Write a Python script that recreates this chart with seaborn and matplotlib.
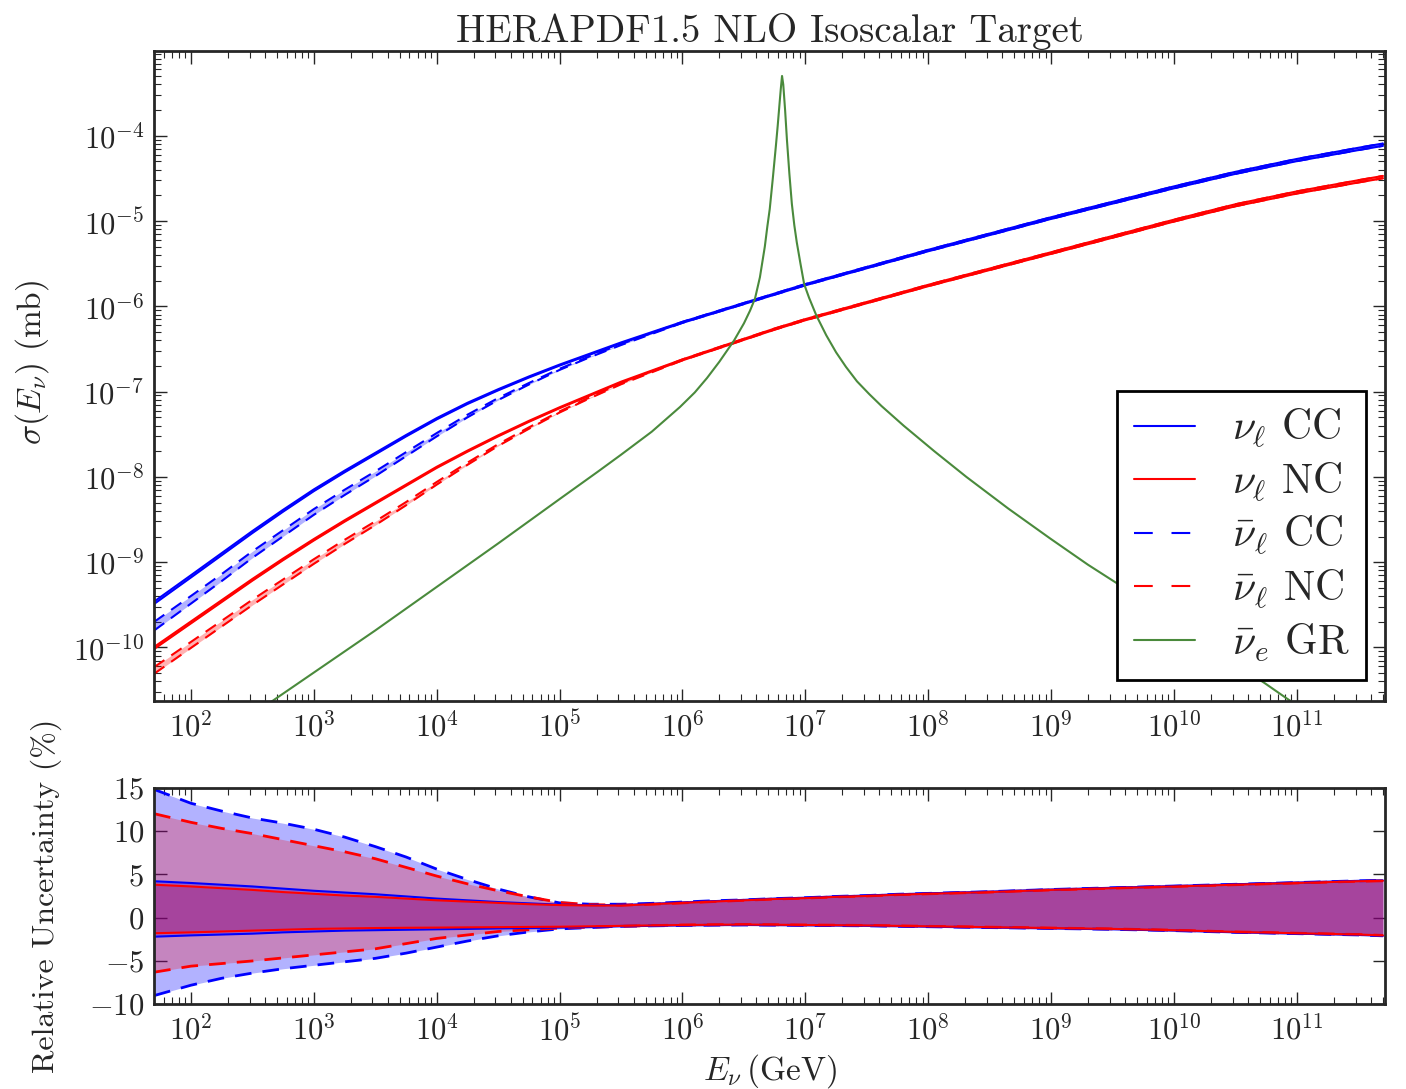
import numpy as np
import pandas as pd
import matplotlib
matplotlib.use("Agg")
import matplotlib.pyplot as plt
import seaborn as sns
from matplotlib.lines import Line2D
from matplotlib.ticker import LogLocator, FuncFormatter, NullFormatter, FixedLocator

# ---------------- data ----------------
log10_E = [1.7, 2.0, 2.25, 2.5, 2.75, 3.0, 3.25, 3.5, 3.75, 4.0,
           4.25, 4.5, 4.75, 5.0, 5.25, 5.5, 5.75, 6.0,
           6.25, 6.5, 6.75, 7.0, 7.25, 7.5, 7.75, 8.0,
           8.5, 9.0, 9.5, 10.0, 10.5, 11.0, 11.5, 11.7]

# log10 of cross section in mb
log10_sigma_nu_cc = [-9.48, -9.17, -8.91, -8.65, -8.40, -8.16, -7.94, -7.73, -7.52, -7.32,
                     -7.14, -6.98, -6.83, -6.69, -6.56, -6.43, -6.31, -6.19,
                     -6.08, -5.97, -5.86, -5.75, -5.65, -5.55, -5.45, -5.35,
                     -5.16, -4.97, -4.79, -4.61, -4.44, -4.29, -4.16, -4.11]
log10_sigma_nu_nc = [-10.01, -9.71, -9.46, -9.21, -8.97, -8.74, -8.52, -8.31, -8.10, -7.89,
                     -7.70, -7.52, -7.35, -7.19, -7.04, -6.89, -6.76, -6.63,
                     -6.51, -6.39, -6.27, -6.16, -6.06, -5.96, -5.86, -5.76,
                     -5.57, -5.38, -5.19, -5.00, -4.82, -4.67, -4.54, -4.49]
log10_sigma_nubar_cc = [-9.76, -9.45, -9.19, -8.92, -8.67, -8.42, -8.19, -7.97, -7.74, -7.51,
                        -7.29, -7.09, -6.91, -6.74, -6.59, -6.45, -6.32, -6.19,
                        -6.08, -5.97, -5.86, -5.75, -5.65, -5.55, -5.45, -5.35,
                        -5.16, -4.97, -4.79, -4.61, -4.44, -4.29, -4.16, -4.11]
log10_sigma_nubar_nc = [-10.28, -9.98, -9.73, -9.48, -9.24, -9.00, -8.77, -8.55, -8.32, -8.08,
                        -7.85, -7.63, -7.43, -7.24, -7.07, -6.91, -6.77, -6.63,
                        -6.51, -6.39, -6.27, -6.16, -6.06, -5.96, -5.86, -5.76,
                        -5.57, -5.38, -5.19, -5.00, -4.82, -4.67, -4.54, -4.49]

# Glashow resonance (anti-nu_e on electrons)
log10_E_gr = [1.7, 2.69, 3.5, 4.0, 4.5, 5.0, 5.31, 5.5, 5.75, 5.98, 6.1, 6.2, 6.3, 6.42,
              6.5, 6.55, 6.59, 6.63, 6.67, 6.69, 6.71, 6.735, 6.76, 6.775, 6.79, 6.80, 6.81,
              6.82, 6.835, 6.85, 6.87, 6.89, 6.91, 6.93, 6.96, 6.99, 7.03, 7.09, 7.17,
              7.25, 7.33, 7.42, 7.52, 7.62, 7.8, 8.05, 8.31, 8.65, 8.99, 9.3, 9.56,
              10.0, 10.4, 10.74, 10.92, 11.7]
log10_sigma_gr = [-11.59, -10.60, -9.80, -9.29, -8.78, -8.26, -7.94, -7.74, -7.47, -7.18,
                  -7.01, -6.84, -6.65, -6.40, -6.20, -6.05, -5.91, -5.66, -5.30, -5.07,
                  -4.86, -4.50, -4.12, -3.88, -3.62, -3.45, -3.30,
                  -3.40, -3.70, -4.05, -4.45, -4.80, -5.05, -5.25, -5.50, -5.74, -5.90,
                  -6.11, -6.34, -6.54, -6.71, -6.88, -7.03, -7.17, -7.40, -7.70, -8.00,
                  -8.37, -8.72, -9.03, -9.27, -9.72, -10.10, -10.42, -10.60, -11.35]

# relative uncertainties (%)
unc_nu_cc_up = [4.2, 4.0, 3.8, 3.6, 3.35, 3.1, 2.9, 2.7, 2.45, 2.2,
                2.0, 1.8, 1.65, 1.5, 1.45, 1.45, 1.6, 1.75,
                1.9, 2.05, 2.2, 2.3, 2.45, 2.55, 2.7, 2.8,
                3.0, 3.25, 3.45, 3.65, 3.85, 4.05, 4.25, 4.3]
unc_nu_cc_lo = [-2.2, -2.05, -1.95, -1.85, -1.7, -1.6, -1.5, -1.45, -1.4, -1.35,
                -1.3, -1.25, -1.2, -1.15, -1.1, -1.0, -0.95, -0.9,
                -0.87, -0.85, -0.87, -0.9, -0.92, -0.95, -1.0, -1.05,
                -1.15, -1.25, -1.35, -1.5, -1.7, -1.85, -2.0, -2.1]
unc_nu_nc_up = [3.8, 3.6, 3.4, 3.2, 2.95, 2.75, 2.55, 2.4, 2.2, 2.0,
                1.85, 1.7, 1.55, 1.45, 1.4, 1.4, 1.55, 1.7,
                1.85, 2.0, 2.15, 2.25, 2.4, 2.5, 2.65, 2.75,
                2.95, 3.2, 3.4, 3.6, 3.8, 4.0, 4.2, 4.25]
unc_nu_nc_lo = [-1.8, -1.7, -1.6, -1.5, -1.4, -1.3, -1.25, -1.2, -1.17, -1.15,
                -1.12, -1.1, -1.07, -1.05, -1.0, -0.95, -0.9, -0.85,
                -0.82, -0.8, -0.82, -0.85, -0.87, -0.9, -0.95, -1.0,
                -1.1, -1.2, -1.3, -1.45, -1.65, -1.8, -1.95, -2.05]
unc_nubar_cc_up = [14.8, 13.2, 12.3, 11.5, 10.9, 10.2, 9.3, 8.2, 7.0, 5.6,
                   4.4, 3.3, 2.4, 1.7, 1.55, 1.55, 1.65, 1.8,
                   1.95, 2.05, 2.2, 2.3, 2.45, 2.55, 2.7, 2.8,
                   3.0, 3.25, 3.45, 3.65, 3.85, 4.05, 4.25, 4.3]
unc_nubar_cc_lo = [-9.0, -7.8, -7.0, -6.4, -5.9, -5.5, -5.1, -4.7, -4.1, -3.4,
                   -2.7, -2.1, -1.65, -1.3, -1.15, -1.0, -0.95, -0.9,
                   -0.87, -0.85, -0.87, -0.9, -0.92, -0.95, -1.0, -1.05,
                   -1.15, -1.25, -1.35, -1.5, -1.7, -1.85, -2.0, -2.1]
unc_nubar_nc_up = [12.0, 11.0, 10.3, 9.7, 9.0, 8.3, 7.6, 6.8, 5.8, 4.8,
                   3.9, 3.1, 2.4, 1.75, 1.5, 1.45, 1.55, 1.7,
                   1.85, 2.0, 2.15, 2.25, 2.4, 2.5, 2.65, 2.75,
                   2.95, 3.2, 3.4, 3.6, 3.8, 4.0, 4.2, 4.25]
unc_nubar_nc_lo = [-6.3, -5.6, -5.3, -5.0, -4.65, -4.3, -3.95, -3.6, -3.0, -2.4,
                   -2.0, -1.6, -1.4, -1.2, -1.1, -1.0, -0.92, -0.85,
                   -0.82, -0.8, -0.82, -0.85, -0.87, -0.9, -0.95, -1.0,
                   -1.1, -1.2, -1.3, -1.45, -1.65, -1.8, -1.95, -2.05]

legend_labels = [r'$\nu_\ell$ CC', r'$\nu_\ell$ NC', r'$\bar{\nu}_\ell$ CC',
                 r'$\bar{\nu}_\ell$ NC', r'$\bar{\nu}_e$ GR']
x_tick_exps = list(range(2, 12))      # 10^2 ... 10^11
y_tick_exps = list(range(-10, -3))    # 10^-10 ... 10^-4
unc_ticks = [-10, -5, 0, 5, 10, 15]

# ---------------- style ----------------
sns.set_style("ticks")
plt.rcParams.update({
    "font.family": "serif",
    "font.serif": ["cmr10"],
    "mathtext.fontset": "cm",
    "axes.unicode_minus": False,
    "axes.linewidth": 2.0,
})

GREEN = "#4a8a3c"
XMIN, XMAX = 50, 5.2e11
E = 10 ** np.array(log10_E)
series = [
    ("nu_cc", log10_sigma_nu_cc, unc_nu_cc_up, unc_nu_cc_lo, "blue", "-"),
    ("nu_nc", log10_sigma_nu_nc, unc_nu_nc_up, unc_nu_nc_lo, "red", "-"),
    ("nubar_cc", log10_sigma_nubar_cc, unc_nubar_cc_up, unc_nubar_cc_lo, "blue", "--"),
    ("nubar_nc", log10_sigma_nubar_nc, unc_nubar_nc_up, unc_nubar_nc_lo, "red", "--"),
]

fig = plt.figure(figsize=(14.06, 10.89), dpi=100)
ax1 = fig.add_axes([0.1095, 0.3563, 0.8755, 0.5971])
ax2 = fig.add_axes([0.1095, 0.0778, 0.8755, 0.1989])

dash = (0, (6, 4))

# ---------------- top panel ----------------
for name, ls, up, lo, col, sty in series:
    sig = 10 ** np.array(ls)
    s_up = sig * (1 + np.array(up) / 100)
    s_lo = sig * (1 + np.array(lo) / 100)
    ax1.fill_between(E, s_lo, s_up, color=col, alpha=0.3, lw=0)
    for yy in (s_up, s_lo):
        df = pd.DataFrame({"E": E, "s": yy})
        sns.lineplot(data=df, x="E", y="s", ax=ax1, color=col, lw=1.5,
                     linestyle=(dash if sty == "--" else "-"), sort=False)

df_gr = pd.DataFrame({"E": 10 ** np.array(log10_E_gr), "s": 10 ** np.array(log10_sigma_gr)})
sns.lineplot(data=df_gr, x="E", y="s", ax=ax1, color=GREEN, lw=1.5, sort=False)

ax1.set_xscale("log")
ax1.set_yscale("log")
ax1.set_xlim(XMIN, XMAX)
ax1.set_ylim(2.36e-11, 9.9e-4)
ax1.set_title("HERAPDF1.5 NLO Isoscalar Target", fontsize=28, pad=6)
ax1.set_ylabel(r"$\sigma(E_\nu)$ (mb)", fontsize=24)
ax1.set_xlabel("")
ax1.yaxis.set_label_coords(-0.084, 0.52)

# ---------------- bottom panel ----------------
for name, ls, up, lo, col, sty in series:
    ax2.fill_between(E, lo, up, color=col, alpha=0.3 if col == "blue" else 0.25, lw=0)
for name, ls, up, lo, col, sty in [series[2], series[3], series[0], series[1]]:
    for yy in (up, lo):
        df = pd.DataFrame({"E": E, "u": yy})
        sns.lineplot(data=df, x="E", y="u", ax=ax2, color=col,
                     lw=(2.0 if sty == "--" else 1.5),
                     linestyle=(dash if sty == "--" else "-"), sort=False)

ax2.set_xscale("log")
ax2.set_xlim(XMIN, XMAX)
ax2.set_ylim(-10, 15)
ax2.set_ylabel("Relative Uncertainty (%)", fontsize=23)
ax2.yaxis.set_label_coords(-0.075, 0.5)
ax2.set_xlabel(r"$E_\nu\,$(GeV)", fontsize=24, labelpad=4)

# ---------------- ticks ----------------
def minor_log(lo_exp, hi_exp, vmin, vmax):
    vals = [m * 10.0 ** k for k in range(lo_exp, hi_exp + 1) for m in range(2, 10)]
    return [v for v in vals if vmin <= v <= vmax]

x_major = [10.0 ** k for k in x_tick_exps]
x_minor = minor_log(1, 11, XMIN, XMAX)
xlabels = [r"$10^{%d}$" % k for k in x_tick_exps]
for ax in (ax1, ax2):
    ax.xaxis.set_major_locator(FixedLocator(x_major))
    ax.xaxis.set_minor_locator(FixedLocator(x_minor))
    ax.set_xticklabels(xlabels)
    ax.xaxis.set_minor_formatter(NullFormatter())
    ax.tick_params(which="both", direction="in", top=True, right=True, labelsize=22)
    ax.tick_params(which="major", length=9, width=1.0, pad=7)
    ax.tick_params(which="minor", length=5, width=0.8)
    for sp in ax.spines.values():
        sp.set_linewidth(2.0)

y_major = [10.0 ** k for k in y_tick_exps]
ax1.yaxis.set_major_locator(FixedLocator(y_major))
ax1.yaxis.set_minor_locator(FixedLocator(minor_log(-11, -4, 2.36e-11, 9.9e-4)))
ax1.set_yticklabels([r"$10^{%d}$" % k for k in y_tick_exps])
ax1.yaxis.set_minor_formatter(NullFormatter())

ax2.yaxis.set_major_locator(FixedLocator(unc_ticks))
ax2.set_yticklabels([r"$%d$" % v for v in unc_ticks])
ax2.yaxis.set_minor_locator(plt.NullLocator())

# ---------------- legend ----------------
handles = [
    Line2D([], [], color="blue", lw=1.5),
    Line2D([], [], color="red", lw=1.5),
    Line2D([], [], color="blue", lw=1.5, linestyle=(0, (9, 9))),
    Line2D([], [], color="red", lw=1.5, linestyle=(0, (9, 9))),
    Line2D([], [], color=GREEN, lw=1.5),
]
leg = ax1.legend(handles, legend_labels, loc="lower right", bbox_to_anchor=(0.985, 0.032),
                 fontsize=30, frameon=True, fancybox=False, handlelength=1.45,
                 handletextpad=0.9, borderpad=0.4, labelspacing=0.25, borderaxespad=0)
leg.get_frame().set_edgecolor("black")
leg.get_frame().set_linewidth(2.0)
leg.get_frame().set_alpha(1.0)

fig.savefig("out.png", dpi=100)
